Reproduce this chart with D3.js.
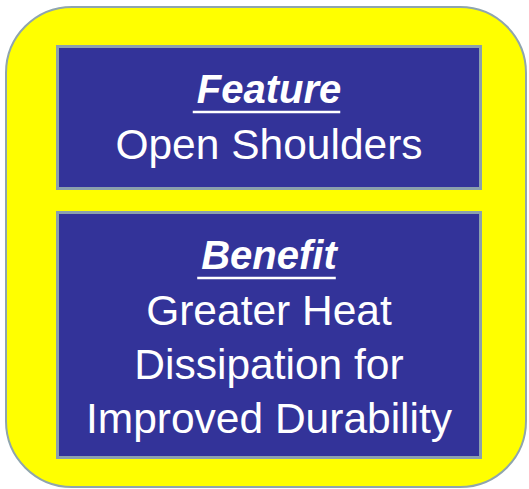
<!DOCTYPE html>
<html>
<head>
<meta charset="utf-8">
<script src="https://cdn.jsdelivr.net/npm/d3@7"></script>
<style>
  html, body { margin: 0; padding: 0; background: #ffffff; }
  svg { display: block; }
</style>
</head>
<body>
<svg id="chart" width="529" height="489"></svg>
<script>
// Content
const headings = ["Feature", "Benefit"];
const bodyLines = [
  ["Open Shoulders"],
  ["Greater Heat", "Dissipation for", "Improved Durability"]
];

const svg = d3.select("#chart");
const font = "Arial, 'Liberation Sans', Helvetica, sans-serif";

// Outer rounded panel
svg.append("rect")
  .attr("x", 6).attr("y", 7)
  .attr("width", 520).attr("height", 480)
  .attr("rx", 66).attr("ry", 66)
  .attr("fill", "#ffff00")
  .attr("stroke", "#8fa5ae")
  .attr("stroke-width", 2);

// Boxes
const boxes = [
  { y0: 45, y1: 190, headBase: 103, bodyBase: 159 },
  { y0: 211, y1: 459, headBase: 269, bodyBase: 325 }
];
const x0 = 56, x1 = 482, cx = (x0 + x1) / 2;
const lineGap = 54;

boxes.forEach((b, i) => {
  svg.append("rect")
    .attr("x", x0 + 1.5).attr("y", b.y0 + 1.5)
    .attr("width", x1 - x0 - 3).attr("height", b.y1 - b.y0 - 3)
    .attr("fill", "#333399")
    .attr("stroke", "#8ba0ad")
    .attr("stroke-width", 3);

  const head = svg.append("text")
    .attr("x", cx).attr("y", b.headBase)
    .attr("text-anchor", "middle")
    .attr("fill", "#ffffff")
    .attr("font-family", font)
    .attr("font-size", 40)
    .attr("font-weight", "bold")
    .attr("font-style", "italic")
    .text(headings[i]);
  const w = head.node().getComputedTextLength();
  svg.append("line")
    .attr("x1", cx - w / 2 - 4).attr("x2", cx + w / 2 - 1)
    .attr("y1", b.headBase + 9).attr("y2", b.headBase + 9)
    .attr("stroke", "#ffffff").attr("stroke-width", 2.5);

  bodyLines[i].forEach((t, j) => {
    svg.append("text")
      .attr("x", cx).attr("y", b.bodyBase + j * lineGap)
      .attr("text-anchor", "middle")
      .attr("fill", "#ffffff")
      .attr("font-family", font)
      .attr("font-size", 42.5)
      .text(t);
  });
});
</script>
</body>
</html>
